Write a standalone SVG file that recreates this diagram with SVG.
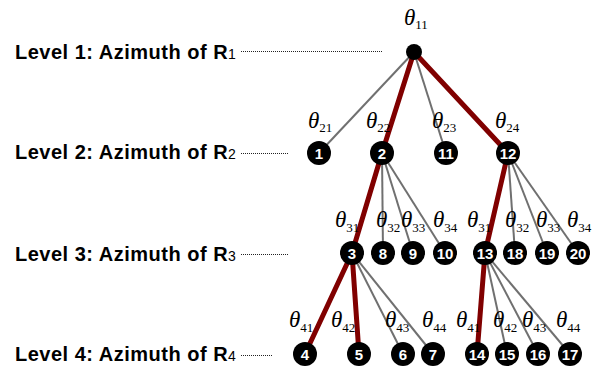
<svg xmlns="http://www.w3.org/2000/svg" width="596" height="370" viewBox="0 0 596 370">
  <style>
    .lvl { font-family: "Liberation Sans", Arial, sans-serif; font-weight: bold; font-size: 20px; letter-spacing: 0.5px; fill: #000; }
    .lvl .sub { font-weight: normal; font-size: 14px; letter-spacing: 0; }
    .guide { stroke: #222; stroke-width: 1; stroke-dasharray: 1 1; fill: none; }
    .edge { stroke: #707070; stroke-width: 2; fill: none; }
    .path { stroke: #800000; stroke-width: 5; fill: none; stroke-linecap: round; }
    .node circle { fill: #000; }
    .node text { font-family: "Liberation Sans", Arial, sans-serif; font-weight: bold; font-size: 15px; fill: #fff; text-anchor: middle; }
    .th { font-family: "Liberation Serif", "Times New Roman", serif; font-style: italic; font-size: 23px; fill: #000; }
    .th .s { font-style: normal; font-size: 13px; }
  </style>

  <!-- level captions with dotted guide lines -->
  <g id="levels">
    <text class="lvl" x="15" y="59">Level 1: Azimuth of R<tspan class="sub">1</tspan></text>
    <text class="lvl" x="15" y="159">Level 2: Azimuth of R<tspan class="sub">2</tspan></text>
    <text class="lvl" x="15" y="261">Level 3: Azimuth of R<tspan class="sub">3</tspan></text>
    <text class="lvl" x="15" y="361">Level 4: Azimuth of R<tspan class="sub">4</tspan></text>
    <line class="guide" x1="241" y1="51.5" x2="382" y2="51.5"/>
    <line class="guide" x1="241" y1="153.5" x2="288" y2="153.5"/>
    <line class="guide" x1="241" y1="254.5" x2="288" y2="254.5"/>
    <line class="guide" x1="241" y1="355.5" x2="273" y2="355.5"/>
  </g>

  <!-- tree branches: grey = candidates, dark red = selected path -->
  <g id="connectors">
    <line class="edge" x1="414" y1="52" x2="319" y2="153"/>
    <line class="edge" x1="414" y1="52" x2="446" y2="153"/>
    <line class="edge" x1="382" y1="153" x2="383" y2="253"/>
    <line class="edge" x1="382" y1="153" x2="413" y2="253"/>
    <line class="edge" x1="382" y1="153" x2="445" y2="253"/>
    <line class="edge" x1="508" y1="153" x2="515" y2="253"/>
    <line class="edge" x1="508" y1="153" x2="547" y2="253"/>
    <line class="edge" x1="508" y1="153" x2="578" y2="253"/>
    <line class="edge" x1="352" y1="253" x2="403" y2="354"/>
    <line class="edge" x1="352" y1="253" x2="433" y2="354"/>
    <line class="edge" x1="485" y1="253" x2="507" y2="354"/>
    <line class="edge" x1="485" y1="253" x2="538" y2="354"/>
    <line class="edge" x1="485" y1="253" x2="570" y2="354"/>
    <line class="path" x1="414" y1="52" x2="382" y2="153"/>
    <line class="path" x1="414" y1="52" x2="508" y2="153"/>
    <line class="path" x1="382" y1="153" x2="352" y2="253"/>
    <line class="path" x1="508" y1="153" x2="485" y2="253"/>
    <line class="path" x1="352" y1="253" x2="305" y2="354"/>
    <line class="path" x1="352" y1="253" x2="359" y2="354"/>
    <line class="path" x1="485" y1="253" x2="477" y2="354"/>
  </g>

  <!-- angle labels -->
  <g id="angles">
    <text class="th" x="404" y="25">θ<tspan class="s" dy="4">11</tspan></text>
    <text class="th" x="308" y="128">θ<tspan class="s" dy="4">21</tspan></text>
    <text class="th" x="366" y="128">θ<tspan class="s" dy="4">22</tspan></text>
    <text class="th" x="432" y="128">θ<tspan class="s" dy="4">23</tspan></text>
    <text class="th" x="495" y="128">θ<tspan class="s" dy="4">24</tspan></text>
    <text class="th" x="335" y="227">θ<tspan class="s" dy="5">31</tspan></text>
    <text class="th" x="376" y="227">θ<tspan class="s" dy="5">32</tspan></text>
    <text class="th" x="401" y="227">θ<tspan class="s" dy="5">33</tspan></text>
    <text class="th" x="433" y="227">θ<tspan class="s" dy="5">34</tspan></text>
    <text class="th" x="467" y="227">θ<tspan class="s" dy="5">31</tspan></text>
    <text class="th" x="505" y="227">θ<tspan class="s" dy="5">32</tspan></text>
    <text class="th" x="536" y="227">θ<tspan class="s" dy="5">33</tspan></text>
    <text class="th" x="567" y="227">θ<tspan class="s" dy="5">34</tspan></text>
    <text class="th" x="289" y="327">θ<tspan class="s" dy="5">41</tspan></text>
    <text class="th" x="331" y="327">θ<tspan class="s" dy="5">42</tspan></text>
    <text class="th" x="385" y="327">θ<tspan class="s" dy="5">43</tspan></text>
    <text class="th" x="422" y="327">θ<tspan class="s" dy="5">44</tspan></text>
    <text class="th" x="456" y="327">θ<tspan class="s" dy="5">41</tspan></text>
    <text class="th" x="493" y="327">θ<tspan class="s" dy="5">42</tspan></text>
    <text class="th" x="522" y="327">θ<tspan class="s" dy="5">43</tspan></text>
    <text class="th" x="556" y="327">θ<tspan class="s" dy="5">44</tspan></text>
  </g>

  <!-- nodes -->
  <g id="root" class="node"><circle cx="414" cy="52" r="8"/></g>
  <g id="n1" class="node"><circle cx="319" cy="153" r="12"/><text x="319" y="158.5">1</text></g>
  <g id="n2" class="node"><circle cx="382" cy="153" r="12"/><text x="382" y="158.5">2</text></g>
  <g id="n11" class="node"><circle cx="446" cy="153" r="12"/><text x="446" y="158.5">11</text></g>
  <g id="n12" class="node"><circle cx="508" cy="153" r="12"/><text x="508" y="158.5">12</text></g>
  <g id="n3" class="node"><circle cx="352" cy="253" r="12"/><text x="352" y="258.5">3</text></g>
  <g id="n8" class="node"><circle cx="383" cy="253" r="12"/><text x="383" y="258.5">8</text></g>
  <g id="n9" class="node"><circle cx="413" cy="253" r="12"/><text x="413" y="258.5">9</text></g>
  <g id="n10" class="node"><circle cx="445" cy="253" r="12"/><text x="445" y="258.5">10</text></g>
  <g id="n13" class="node"><circle cx="485" cy="253" r="12"/><text x="485" y="258.5">13</text></g>
  <g id="n18" class="node"><circle cx="515" cy="253" r="12"/><text x="515" y="258.5">18</text></g>
  <g id="n19" class="node"><circle cx="547" cy="253" r="12"/><text x="547" y="258.5">19</text></g>
  <g id="n20" class="node"><circle cx="578" cy="253" r="12"/><text x="578" y="258.5">20</text></g>
  <g id="n4" class="node"><circle cx="305" cy="354" r="12"/><text x="305" y="359.5">4</text></g>
  <g id="n5" class="node"><circle cx="359" cy="354" r="12"/><text x="359" y="359.5">5</text></g>
  <g id="n6" class="node"><circle cx="403" cy="354" r="12"/><text x="403" y="359.5">6</text></g>
  <g id="n7" class="node"><circle cx="433" cy="354" r="12"/><text x="433" y="359.5">7</text></g>
  <g id="n14" class="node"><circle cx="477" cy="354" r="12"/><text x="477" y="359.5">14</text></g>
  <g id="n15" class="node"><circle cx="507" cy="354" r="12"/><text x="507" y="359.5">15</text></g>
  <g id="n16" class="node"><circle cx="538" cy="354" r="12"/><text x="538" y="359.5">16</text></g>
  <g id="n17" class="node"><circle cx="570" cy="354" r="12"/><text x="570" y="359.5">17</text></g>
</svg>
